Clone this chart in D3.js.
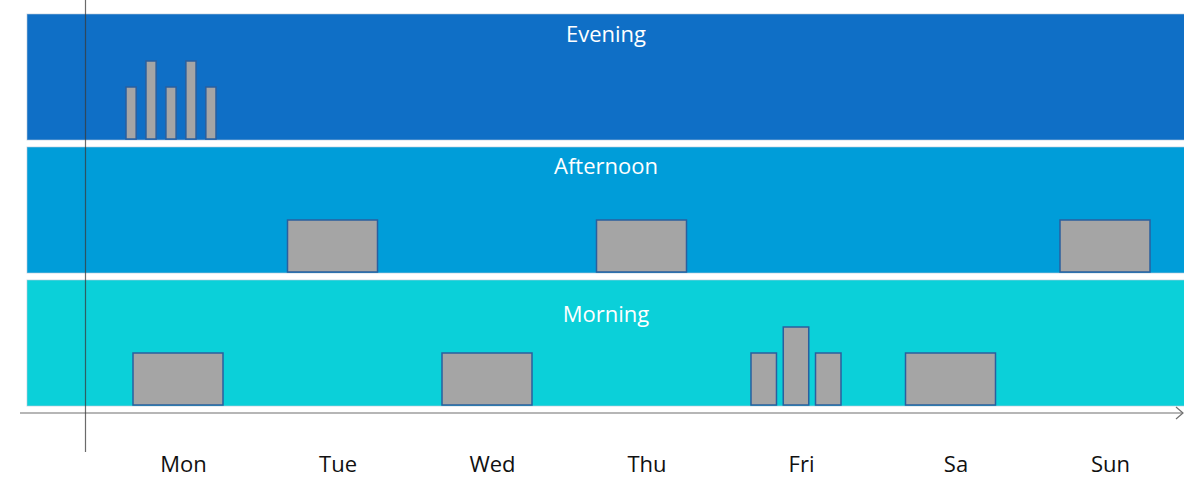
<!DOCTYPE html>
<html>
<head>
<meta charset="utf-8">
<script src="https://cdn.jsdelivr.net/npm/d3@7"></script>
<style>
  html, body { margin: 0; padding: 0; background: #ffffff; }
  svg { display: block; }
</style>
</head>
<body>
<svg id="chart" width="1184" height="478"></svg>
<script>
// ---- data ----
const days = ["Mon", "Tue", "Wed", "Thu", "Fri", "Sa", "Sun"];
const slots = ["Evening", "Afternoon", "Morning"];
// values per day (one array per day; several values = several sub-bars)
const eveningValues   = [[2, 3, 2, 3, 2], [], [], [], [], [], []];
const afternoonValues = [[], [2], [], [2], [], [], [2]];
const morningValues   = [[2], [], [2], [], [2, 3, 2], [2], []];

const slotValues = { Evening: eveningValues, Afternoon: afternoonValues, Morning: morningValues };
const slotColors = { Evening: "#0F6FC6", Afternoon: "#009DD9", Morning: "#0BD0D9" };

// ---- layout ----
const svg = d3.select("#chart");

const x = d3.scalePoint().domain(days).range([178, 1105]);
const y = d3.scaleBand().domain(slots).range([14, 406]).paddingInner(0.0526);
const v = d3.scaleLinear().domain([0, 5]).range([0, 130]);
const groupWidth = 90;

// bands
const bands = svg.append("g").selectAll("g.band")
  .data(slots).join("g").attr("class", "band");

bands.append("rect")
  .attr("x", 27).attr("width", 1170)
  .attr("y", d => y(d)).attr("height", y.bandwidth())
  .attr("fill", d => slotColors[d])
  .attr("stroke", "#b8c8d8").attr("stroke-width", 1).attr("stroke-opacity", 0.6);

bands.append("text")
  .attr("x", 606)
  .attr("y", d => y(d) + (d === "Morning" ? 42 : 27.5))
  .attr("text-anchor", "middle")
  .attr("font-family", "'Open Sans', sans-serif")
  .attr("font-size", 22)
  .attr("fill", "#ffffff")
  .text(d => d);

// bars
slots.forEach(slot => {
  const vals = slotValues[slot];
  const bottom = y(slot) + y.bandwidth() - 1;
  days.forEach((day, i) => {
    const arr = vals[i];
    if (!arr.length) return;
    const cx = x(day) - (arr.length > 3 ? 7 : 0);
    const sub = d3.scaleBand()
      .domain(d3.range(arr.length))
      .range([cx - groupWidth / 2, cx + groupWidth / 2])
      .paddingInner(arr.length === 1 ? 0 : (arr.length > 3 ? 0.49 : 0.21));
    svg.append("g").selectAll("rect")
      .data(arr).join("rect")
      .attr("x", (d, j) => sub(j))
      .attr("width", sub.bandwidth())
      .attr("y", d => bottom - v(d))
      .attr("height", d => v(d))
      .attr("fill", "#A5A5A5")
      .attr("stroke", "#2A5F9E")
      .attr("stroke-width", 1.5);
  });
});

// horizontal axis line with open arrowhead
const axisY = 413;
svg.append("line")
  .attr("x1", 20).attr("x2", 1183).attr("y1", axisY).attr("y2", axisY)
  .attr("stroke", "#6f6f6f").attr("stroke-width", 1.2);
svg.append("path")
  .attr("d", `M1176,${axisY - 6} L1183,${axisY} L1176,${axisY + 6}`)
  .attr("fill", "none").attr("stroke", "#6f6f6f").attr("stroke-width", 1.2);

// day labels via axis
const axisG = svg.append("g")
  .attr("transform", `translate(5, ${axisY})`)
  .call(d3.axisBottom(x).tickSize(0).tickPadding(43));
axisG.select(".domain").remove();
axisG.selectAll("text")
  .attr("font-family", "'Open Sans', sans-serif")
  .attr("font-size", 22)
  .attr("fill", "#111111");

// vertical line
svg.append("line")
  .attr("x1", 85.5).attr("x2", 85.5).attr("y1", 0).attr("y2", 452)
  .attr("stroke", "#3a3a3a").attr("stroke-opacity", 0.75).attr("stroke-width", 1.2);
</script>
</body>
</html>
